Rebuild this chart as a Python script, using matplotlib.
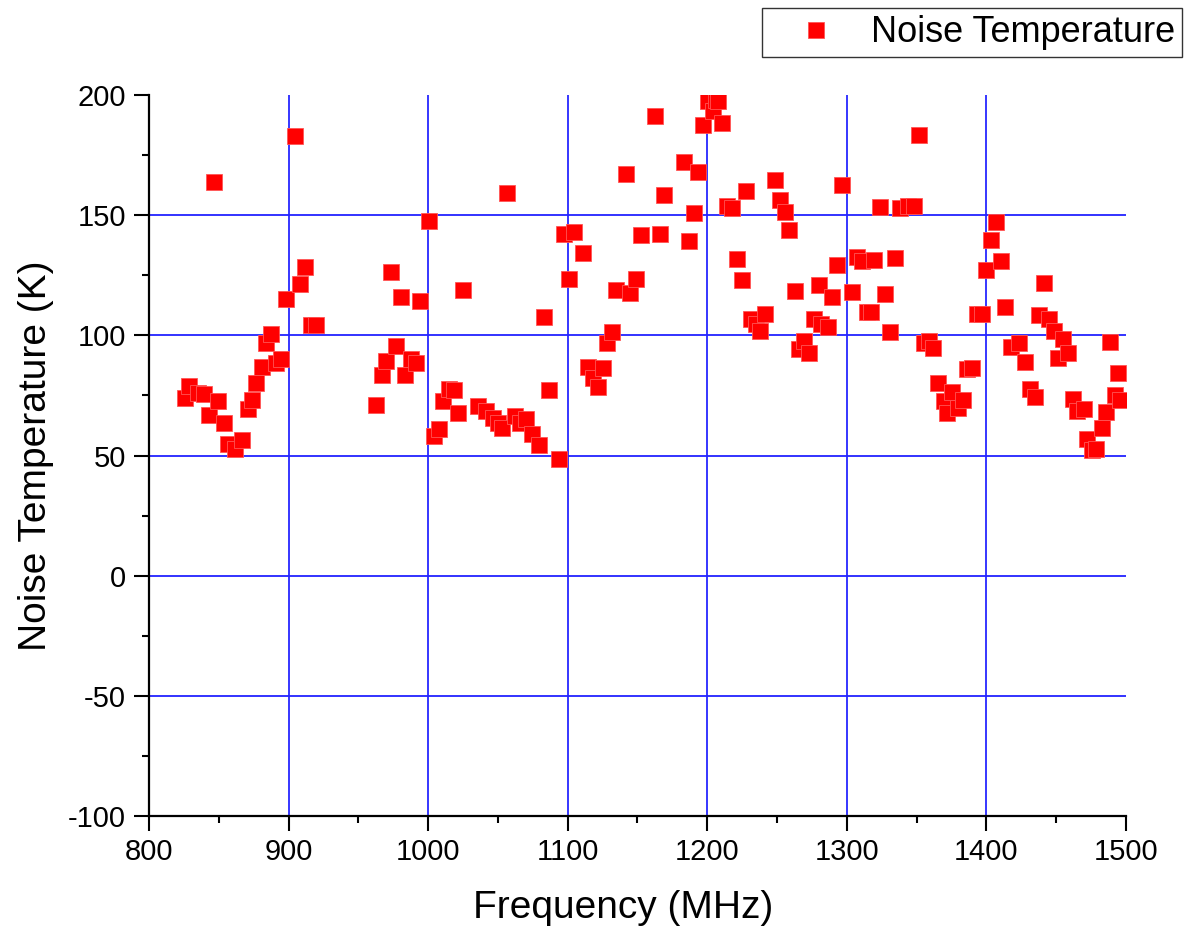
import matplotlib
matplotlib.use("Agg")
import matplotlib.pyplot as plt
from matplotlib.ticker import MultipleLocator

plt.rcParams['font.family'] = ['Liberation Sans', 'DejaVu Sans']
plt.rcParams['axes.unicode_minus'] = False

# ── data (MHz, K) ──────────────────────────────────────────────────────────────
freq_mhz = [
    825.5, 829, 835, 839.8, 842.9, 846.4, 849.8, 853.6, 856.4, 861.6,
    866.6, 870.7, 874, 877, 881, 884, 887.4, 891, 894.5, 897.9,
    904.8, 908.3, 911.7, 916, 920,
    963, 966.7, 970, 973.6, 977, 980.7, 983.8, 987.4, 991.6, 994.3,
    1001, 1004.5, 1007.9, 1010.5, 1015, 1018.6, 1021.7, 1025,
    1035.7, 1041.2, 1046.4, 1050, 1052.6, 1056.2, 1062.6, 1066, 1069.8,
    1074.5, 1079.8, 1083.3, 1086.9, 1093.6, 1097.1, 1100.7, 1104.3,
    1110.9, 1114.5, 1117.9, 1121.4, 1125, 1128.3, 1131.7, 1134.8,
    1141.7, 1145, 1149.3, 1152.6, 1162.6, 1165.9, 1169.3,
    1183.3, 1186.7, 1190.2, 1193.6, 1197.1, 1200.7, 1204.3, 1206, 1208,
    1210.7, 1214.3, 1217.4, 1221, 1224.6, 1228, 1231.6, 1235, 1237.6,
    1241.2, 1248.8, 1251.9, 1255.5, 1258.8, 1262.6, 1265.7, 1269.3,
    1272.9, 1276.4, 1279.8, 1281.6, 1286.4, 1289.5, 1293.1, 1296.4,
    1303.6, 1307.1, 1311, 1314.5, 1317.4, 1319.8, 1324, 1327.6, 1331.2,
    1334.5, 1338.3, 1343.6, 1348.4, 1351.4, 1355.5, 1358.6, 1361.7,
    1365, 1369.8, 1372, 1375.7, 1379.3, 1382.9, 1386.4, 1390, 1393,
    1397.1, 1400, 1403.6, 1406.9, 1410.2, 1413.3, 1417.4, 1423.3,
    1427.4, 1431.2, 1434.5, 1437.6, 1441.2, 1444.8, 1448.3, 1451.4,
    1455, 1458.6, 1462.1, 1465, 1469.8, 1472.1, 1475.7, 1478.8, 1482.9,
    1485.9, 1488.8, 1492.4, 1494.5, 1495.9,
]
noise_temp_k = [
    74, 78.9, 76, 75.4, 66.8, 164, 72.6, 63.6, 54.9, 52.8,
    56.4, 69.4, 73, 80.3, 86.8, 97, 100.4, 88.3, 90.3, 115.3,
    183.1, 121.5, 128.5, 104.3, 104.3,
    71.2, 83.3, 89.2, 126.4, 95.4, 116.1, 83.3, 90.3, 88.6, 114.2,
    147.6, 58, 61.1, 72.6, 77.5, 77.1, 67.8, 118.9,
    70.6, 68.5, 65.7, 63.5, 61.5, 159.4, 66.4, 63.5, 65,
    58.75, 54.2, 107.8, 77.2, 48.75, 142.1, 123.6, 143,
    134.4, 87, 82.4, 78.5, 86.5, 96.7, 101.4, 118.75,
    167, 117.8, 123.6, 141.8, 191.4, 142, 158.3,
    172.2, 139.3, 150.8, 168, 187.5, 197.6, 193.5, 198, 197.6,
    188.3, 153.9, 152.9, 131.9, 122.9, 160.1, 107, 104.6, 101.8,
    109, 164.7, 156.25, 151.5, 143.75, 118.5, 94.4, 97.6,
    92.5, 107, 121, 104.9, 103.6, 116, 129.2, 162.5,
    118.2, 132.6, 131, 109.7, 109.7, 131.25, 153.6, 117.1, 101.4,
    132.1, 153.2, 153.9, 153.9, 183.3, 96.7, 97.6, 94.9,
    80, 72.6, 67.8, 76.4, 69.9, 73, 86.1, 86.5, 109,
    109, 127, 139.6, 147.2, 131, 111.8, 95.1, 96.7,
    89, 77.5, 74.4, 108.5, 121.7, 106.7, 101.8, 90.7,
    98.3, 92.5, 73.6, 68.5, 69.5, 57, 52.2, 52.8, 61.5,
    68, 97.2, 75, 84.5, 73.3,
]

x_grid = [900, 1000, 1100, 1200, 1300, 1400]
y_grid = [-50, 0, 50, 100, 150]

fig = plt.figure(figsize=(11.84, 9.30), dpi=100)
ax = fig.add_axes([0.1258, 0.1226, 0.8252, 0.7752])

# grid drawn by hand so the frame edges get no blue line
for xv in x_grid:
    ax.axvline(xv, color='#0000ff', lw=1.1, zorder=1)
for yv in y_grid:
    ax.axhline(yv, color='#2222ff', lw=1.3, zorder=1)

ax.plot(freq_mhz, noise_temp_k, ls='none', marker='s', ms=11,
        mfc='#ff0000', mec='#ff5555', mew=0.6, zorder=3,
        label='Noise Temperature')

ax.set_xlim(800, 1500)
ax.set_ylim(-100, 200)
ax.xaxis.set_major_locator(MultipleLocator(100))
ax.xaxis.set_minor_locator(MultipleLocator(50))
ax.yaxis.set_major_locator(MultipleLocator(50))
ax.yaxis.set_minor_locator(MultipleLocator(25))

for side in ('top', 'right'):
    ax.spines[side].set_visible(False)
for side in ('left', 'bottom'):
    ax.spines[side].set_linewidth(1.6)

ax.tick_params(which='major', direction='out', length=10.5, width=1.5,
               labelsize=21, pad=5)
ax.tick_params(which='minor', direction='out', length=5, width=1.5)
ax.tick_params(axis='y', pad=6)

ax.set_xlabel('Frequency (MHz)', fontsize=28)
ax.xaxis.set_label_coords(0.485, -0.102)
ax.set_ylabel('Noise Temperature (K)', fontsize=28, labelpad=10)

leg = ax.legend(loc='upper right', bbox_to_anchor=(1182 / 1184, 1 - 8 / 930),
                bbox_transform=fig.transFigure, borderaxespad=0,
                fontsize=26, frameon=True, fancybox=False, borderpad=0.2,
                handlelength=2.6, handletextpad=0.2, markerscale=1.0)
leg.get_frame().set_edgecolor('black')
leg.get_frame().set_linewidth(1.0)

fig.savefig('out.png', dpi=100)
